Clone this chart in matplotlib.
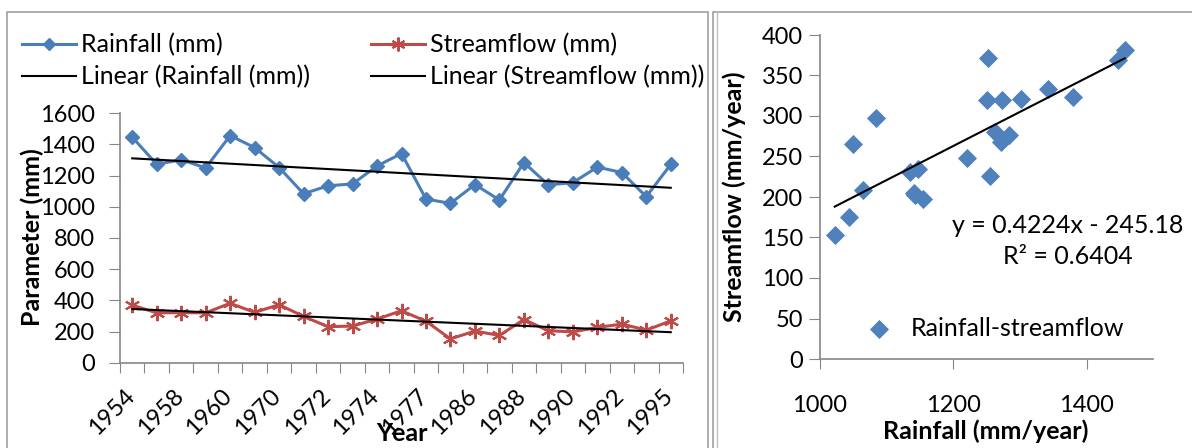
import numpy as np
import matplotlib
matplotlib.use('Agg')
import matplotlib.pyplot as plt
from matplotlib.patches import Rectangle
from matplotlib.lines import Line2D
from matplotlib.transforms import ScaledTranslation

# ---------------- data ----------------
year_labels = ['1954', '1958', '1960', '1970', '1972', '1974', '1977',
               '1986', '1988', '1990', '1992', '1995']   # shown on every other category
rainfall = [1447, 1273, 1302, 1250, 1457, 1380, 1252, 1084, 1135, 1147, 1262, 1342,
            1050, 1022, 1143, 1044, 1284, 1141, 1155, 1255, 1220, 1065, 1272]
streamflow = [369, 320, 321, 320, 381, 323, 372, 297, 231, 235, 280, 333,
              266, 153, 203, 175, 277, 205, 198, 226, 248, 209, 268]
eq_text = 'y = 0.4224x - 245.18'
r2_text = 'R² = 0.6404'

plt.rcParams['font.family'] = ['Lato', 'DejaVu Sans']
FS = 18       # legend / annotation / axis titles
TFS = 17      # tick labels

W, H = 1192, 448
fig = plt.figure(figsize=(W / 100, H / 100), dpi=100)


def fx(px):
    return px / W


def fy(py):
    return 1 - py / H


GRAY = '#868686'
BLUE = '#4A7EBB'
RED = '#BE4B48'
SBLUE = '#4F81BD'

# panel borders
fig.add_artist(Rectangle((fx(7), fy(460)), fx(708) - fx(7), (460 - 12) / H,
                         transform=fig.transFigure, fill=False, ec='#a0a0a0', lw=1.2))
fig.add_artist(Rectangle((fx(713), fy(460)), fx(1200) - fx(713), (460 - 12) / H,
                         transform=fig.transFigure, fill=False, ec='#a0a0a0', lw=1.2))
fig.add_artist(Line2D([fx(717), fx(717)], [fy(12), 0], transform=fig.transFigure,
                      color='#c0c0c0', lw=1))

# ---------------- left: time series ----------------
n = len(rainfall)
x = np.arange(n)
ax1 = fig.add_axes([fx(120), fy(362.7), fx(683) - fx(120), (362.7 - 113.3) / H])
ax1.plot(x, rainfall, color=BLUE, lw=2.2, marker='D', ms=7.5, mfc=BLUE, mec=BLUE, zorder=3)
ax1.plot(x, streamflow, color=RED, lw=2.2, marker=(6, 2, 0), ms=11, mec=RED, mew=1.5, zorder=3)
pr = np.polyfit(x, rainfall, 1)
ps = np.polyfit(x, streamflow, 1)
xe = np.array([x[0], x[-1]])
ax1.plot(xe, np.polyval(pr, xe), color='black', lw=1.5, zorder=4)
ax1.plot(xe, np.polyval(ps, xe), color='black', lw=1.5, zorder=4)

ax1.set_xlim(-0.5, n - 0.5)
ax1.set_ylim(0, 1600)
ax1.set_yticks(np.arange(0, 1601, 200))
ax1.set_xticks(np.arange(-0.5, n, 1.0))
ax1.set_xticklabels([])
ax1.set_xticks(x[::2], minor=True)
ax1.set_xticklabels(year_labels, minor=True, rotation=45, ha='right', va='top', fontsize=TFS)
ax1.tick_params(axis='x', which='minor', length=0, pad=16)
ax1.tick_params(axis='x', which='major', length=7, color=GRAY, direction='out')
ax1.tick_params(axis='y', length=8, color=GRAY, direction='out', pad=10, labelsize=TFS)
for lab in ax1.get_xticklabels(minor=True):
    lab.set_transform(lab.get_transform() + ScaledTranslation(6 / 100, 0, fig.dpi_scale_trans))
for s in ['top', 'right']:
    ax1.spines[s].set_visible(False)
for s in ['left', 'bottom']:
    ax1.spines[s].set_color(GRAY)
    ax1.spines[s].set_linewidth(1.2)

fig.text(fx(402), fy(433), 'Year', ha='center', va='center', fontsize=FS, fontweight='bold')
fig.text(fx(32), fy(237), 'Parameter (mm)', ha='center', va='center', rotation=90,
         fontsize=FS, fontweight='bold')

h_r = Line2D([], [], color=BLUE, lw=2.2, marker='D', ms=6, mfc=BLUE, mec=BLUE)
h_s = Line2D([], [], color=RED, lw=2.2, marker=(6, 2, 0), ms=10, mec=RED, mew=1.5)
h_l = Line2D([], [], color='black', lw=1.5)
leg_kw = dict(loc='center left', frameon=False, fontsize=FS, borderpad=0, borderaxespad=0,
              handlelength=2.15, handletextpad=0.2, labelspacing=0.36, numpoints=1)
fig.legend([h_r, h_l], ['Rainfall (mm)', 'Linear (Rainfall (mm))'],
           bbox_to_anchor=(fx(22), fy(61)), **leg_kw)
fig.legend([h_s, h_l], ['Streamflow (mm)', 'Linear (Streamflow (mm))'],
           bbox_to_anchor=(fx(371), fy(61)), **leg_kw)

# ---------------- right: scatter ----------------
ax2 = fig.add_axes([fx(820), fy(359), fx(1153.3) - fx(820), (359 - 35) / H])
sc = ax2.scatter(rainfall, streamflow, marker='D', s=95, color=SBLUE, lw=0, zorder=3)
p2 = np.polyfit(rainfall, streamflow, 1)
xr = np.array([min(rainfall), max(rainfall)])
ax2.plot(xr, np.polyval(p2, xr), color='black', lw=1.5, zorder=4)
ax2.set_xlim(1000, 1500)
ax2.set_ylim(0, 400)
ax2.set_xticks([1000, 1200, 1400])
ax2.set_yticks(np.arange(0, 401, 50))
ax2.tick_params(axis='x', length=7, color=GRAY, direction='out', pad=19, labelsize=TFS)
ax2.tick_params(axis='y', length=8, color=GRAY, direction='out', pad=4, labelsize=TFS)
for s in ['top', 'right']:
    ax2.spines[s].set_visible(False)
for s in ['left', 'bottom']:
    ax2.spines[s].set_color(GRAY)
    ax2.spines[s].set_linewidth(1.2)

fig.text(fx(1068), fy(225), eq_text, ha='center', va='center', fontsize=FS)
fig.text(fx(1068), fy(257), r2_text, ha='center', va='center', fontsize=FS)
fig.text(fx(986), fy(431), 'Rainfall (mm/year)', ha='center', va='center',
         fontsize=FS, fontweight='bold')
fig.text(fx(734), fy(197), 'Streamflow (mm/year)', ha='center', va='center', rotation=90,
         fontsize=FS, fontweight='bold')
fig.legend([sc], ['Rainfall-streamflow'], loc='center left',
           bbox_to_anchor=(fx(868.6), fy(328)), frameon=False, fontsize=FS,
           borderpad=0, borderaxespad=0, handlelength=0.85, handletextpad=0.85,
           scatterpoints=1)

fig.savefig('out.png', dpi=100)
